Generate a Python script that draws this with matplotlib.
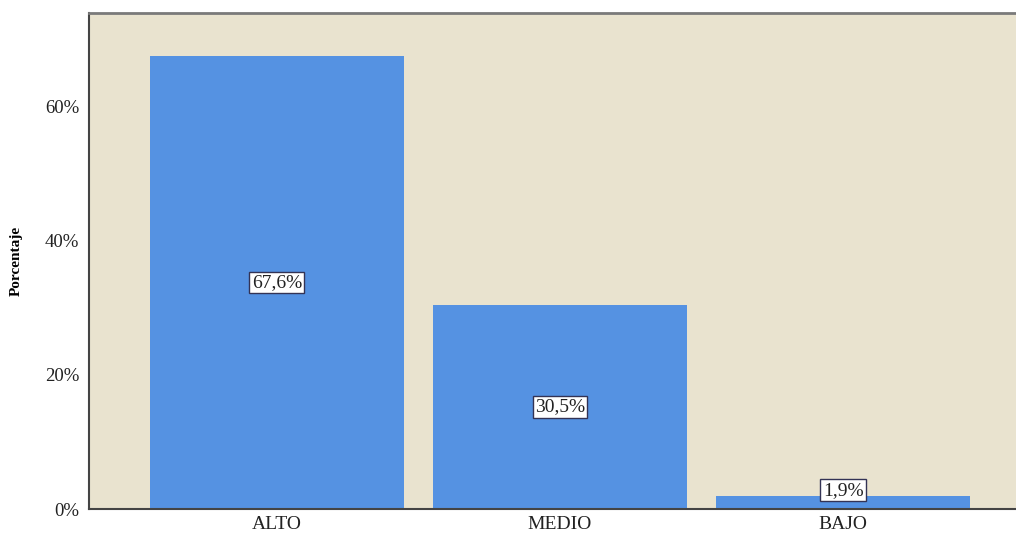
import matplotlib
matplotlib.use("Agg")
import matplotlib.pyplot as plt
import matplotlib.ticker as mticker

categories = ["ALTO", "MEDIO", "BAJO"]
values = [67.6, 30.5, 1.9]
labels = ["67,6%", "30,5%", "1,9%"]
yticks = [0, 20, 40, 60]

plt.rcParams['font.family'] = ['Liberation Serif', 'DejaVu Serif']

fig = plt.figure(figsize=(10.16, 5.35), dpi=100)
ax = fig.add_axes([89/1016, 1-509/535, 1-89/1016, (509-13)/535])
ax.set_facecolor('#E9E3CF')
x = list(range(len(categories)))
ax.bar(x, values, width=0.9, color='#5592E2', zorder=2)
ax.set_xlim(-0.664, 2.611)
ax.set_ylim(0, 74)
ax.set_xticks(x)
ax.set_xticklabels(categories, fontsize=14, color='#222222')
ax.set_yticks(yticks)
ax.yaxis.set_major_formatter(mticker.FuncFormatter(lambda v, p: f"{int(v)}%"))
ax.tick_params(axis='y', labelsize=13.5, length=0, pad=7, labelcolor='#222222')
ax.tick_params(axis='x', length=0, pad=5)
ax.set_ylabel("Porcentaje", fontsize=11, fontweight='bold', labelpad=16)
for s in ['left', 'bottom']:
    ax.spines[s].set_color('#444444')
    ax.spines[s].set_linewidth(1.5)
ax.spines['top'].set_color('#7a7a7a')
ax.spines['top'].set_linewidth(2)
ax.spines['right'].set_visible(False)

for xi, v, lab in zip(x, values, labels):
    ypos = max(v / 2, 2.8)
    ax.text(xi, ypos, lab, ha='center', va='center', fontsize=14, color='#222222', zorder=3,
            bbox=dict(boxstyle='square,pad=0.12', facecolor='white', edgecolor='#333355', linewidth=1))

fig.savefig("out.png", dpi=100)
